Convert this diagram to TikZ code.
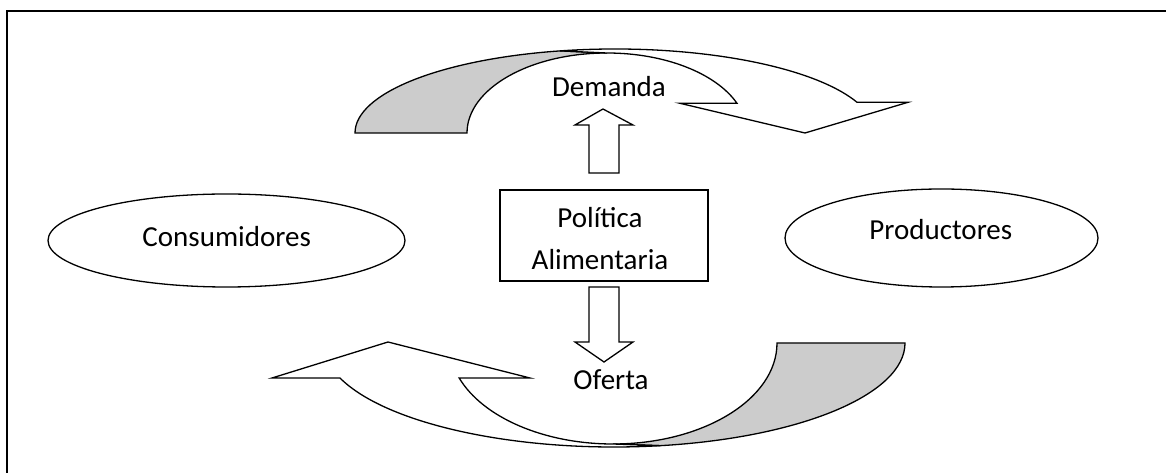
\documentclass[tikz,border=0pt]{standalone}
\usepackage{fontspec}
\setmainfont{Carlito}
\usetikzlibrary{shapes.geometric}
\definecolor{shade}{RGB}{204,204,204}
\begin{document}
\begin{tikzpicture}[x=1pt,y=1pt,
  outl/.style={draw=black,line width=1.3pt,line join=miter},
  txt/.style={font=\fontsize{29}{35}\selectfont,inner sep=0pt,anchor=base},
  oval/.style={ellipse,outl,inner sep=0pt}]
\useasboundingbox (0,0) rectangle (1166,473);
% frame
\draw[line width=2pt] (1166,462) -- (7,462) -- (7,0);
% ellipses
\node[oval,minimum width=357pt,minimum height=93pt] (cons) at (226.5,232.5) {};
\node[txt] (tcons) at (226.7,226) {Consumidores};
\node[oval,minimum width=313pt,minimum height=98pt] (prod) at (941.5,235) {};
\node[txt] (tprod) at (940.8,233) {Productores};
% box
\node[outl,minimum width=208pt,minimum height=91pt,inner sep=0pt] (pol) at (604,237.5) {};
\node[txt] (t1) at (600,245) {Política};
\node[txt] (t2) at (600,203) {Alimentaria};
% block arrows
\draw[outl,fill=white] (589,300) -- (589,348) -- (575,348) -- (603,364) -- (633,348) -- (619,348) -- (619,300) -- cycle;
\draw[outl,fill=white] (589,186) -- (589,131) -- (575,131) -- (604,111) -- (633,131) -- (619,131) -- (619,186) -- cycle;
% top curved arrow
\filldraw[outl,fill=shade] (355,340) arc[start angle=180,end angle=102.2,x radius=260pt,y radius=84pt] -- (607,420) arc[start angle=90,end angle=180,x radius=140pt,y radius=80pt] -- cycle;
\filldraw[outl,fill=white] (607,420) arc[start angle=90,end angle=21.8,x radius=140pt,y radius=80pt] -- (680,369.7) -- (805,340) -- (908,370.7) -- ({615+260*cos(21.44)},{340+84*sin(21.44)}) arc[start angle=21.44,end angle=102.2,x radius=260pt,y radius=84pt] -- cycle;
% bottom curved arrow
\filldraw[outl,fill=shade] (777,130) -- (905,130) arc[start angle=0,end angle=-80.9,x radius=291pt,y radius=104pt] -- (613,29) arc[start angle=270,end angle=360,x radius=164pt,y radius=101pt] -- cycle;
\filldraw[outl,fill=white] (613,29) arc[start angle=270,end angle=200.27,x radius=164pt,y radius=101pt] -- (530,95) -- (388,131) -- (272,95) -- ({614+291*cos(199.67)},{130+104*sin(199.67)}) arc[start angle=199.67,end angle=279.1,x radius=291pt,y radius=104pt] -- cycle;
% labels
\node[txt] (dem) at (609,376) {Demanda};
\node[txt] (of) at (611,83) {Oferta};
\end{tikzpicture}
\end{document}
